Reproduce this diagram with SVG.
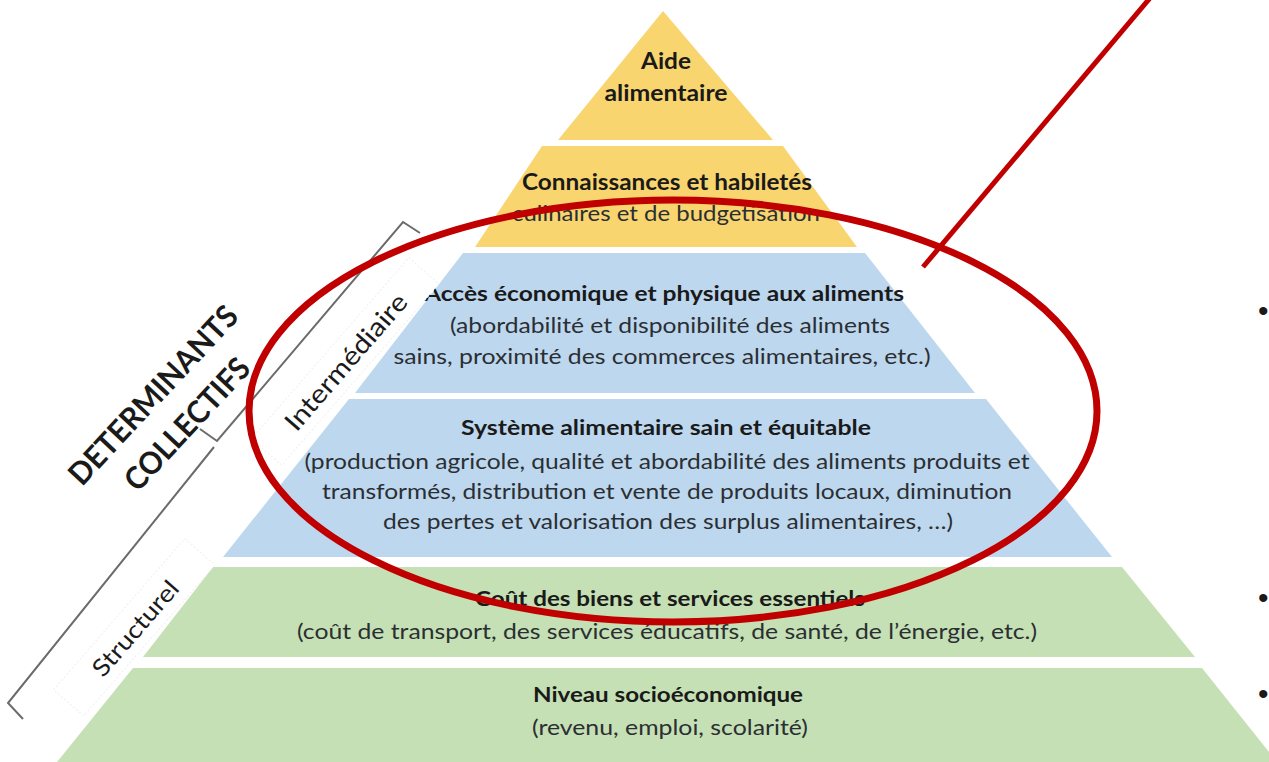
<svg xmlns="http://www.w3.org/2000/svg" width="1269" height="762" viewBox="0 0 1269 762">
<style>
  .yel { fill: #F9D56F; }
  .blu { fill: #BDD7EE; }
  .grn { fill: #C5E0B4; }
  .h { font-family: Lato, "Liberation Sans", sans-serif; font-weight: bold; fill: #1a1a1a; text-anchor: middle; }
  .b { font-family: Lato, "Liberation Sans", sans-serif; fill: #2b2f33; text-anchor: middle; }
  .lbl { font-family: Lato, "Liberation Sans", sans-serif; fill: #1a1a1a; text-anchor: middle; }
  .brk { fill: none; stroke: #6b6b6b; stroke-width: 2; stroke-linejoin: miter; }
  .box { fill: #ffffff; stroke: #efefef; stroke-width: 1; stroke-dasharray: 2 2; }
  .red { fill: none; stroke: #C00000; }
  .bul { font-family: "Liberation Sans", sans-serif; font-size: 30px; fill: #1a1a1a; }
</style>
<rect width="1269" height="762" fill="#ffffff"/>

<g id="tier-aide">
  <polygon class="yel" points="663,11 773,140 558,140"/>
  <text class="h" x="666" y="69" font-size="23" textLength="50" lengthAdjust="spacingAndGlyphs">Aide</text>
  <text class="h" x="666" y="101" font-size="23" textLength="123" lengthAdjust="spacingAndGlyphs">alimentaire</text>
</g>

<g id="tier-connaissances">
  <polygon class="yel" points="542,146 783,146 857,247 475,247"/>
  <text class="h" x="667" y="190" font-size="22" textLength="290" lengthAdjust="spacingAndGlyphs">Connaissances et habiletés</text>
  <text class="b" x="666" y="221" font-size="22" textLength="308" lengthAdjust="spacingAndGlyphs">culinaires et de budgetisation</text>
</g>

<g id="tier-acces">
  <polygon class="blu" points="463,253 865,253 975,393 355,393"/>
  <text class="h" x="664" y="301" font-size="21" textLength="480" lengthAdjust="spacingAndGlyphs">Accès économique et physique aux aliments</text>
  <text class="b" x="670" y="333" font-size="21" textLength="440" lengthAdjust="spacingAndGlyphs">(abordabilité et disponibilité des aliments</text>
  <text class="b" x="662" y="364" font-size="21" textLength="537" lengthAdjust="spacingAndGlyphs">sains, proximité des commerces alimentaires, etc.)</text>
</g>

<g id="tier-systeme">
  <polygon class="blu" points="349,399 986,399 1112,557 223,557"/>
  <text class="h" x="666" y="435" font-size="21" textLength="410" lengthAdjust="spacingAndGlyphs">Système alimentaire sain et équitable</text>
  <text class="b" x="667" y="469" font-size="21" textLength="725" lengthAdjust="spacingAndGlyphs">(production agricole, qualité et abordabilité des aliments produits et</text>
  <text class="b" x="667" y="499" font-size="21" textLength="690" lengthAdjust="spacingAndGlyphs">transformés, distribution et vente de produits locaux, diminution</text>
  <text class="b" x="668" y="529" font-size="21" textLength="570" lengthAdjust="spacingAndGlyphs">des pertes et valorisation des surplus alimentaires, …)</text>
</g>

<g id="tier-cout">
  <polygon class="grn" points="213,567 1122,567 1195,657 143,657"/>
  <text class="h" x="670" y="606" font-size="21" textLength="390" lengthAdjust="spacingAndGlyphs">Coût des biens et services essentiels</text>
  <text class="b" x="667" y="639" font-size="21" textLength="740" lengthAdjust="spacingAndGlyphs">(coût de transport, des services éducatifs, de santé, de l’énergie, etc.)</text>
</g>

<g id="tier-niveau">
  <polygon class="grn" points="133,668 1202,668 1277,762 57,762"/>
  <text class="h" x="668" y="702" font-size="21" textLength="270" lengthAdjust="spacingAndGlyphs">Niveau socioéconomique</text>
  <text class="b" x="670" y="735" font-size="21" textLength="276" lengthAdjust="spacingAndGlyphs">(revenu, emploi, scolarité)</text>
</g>

<g id="label-intermediaire">
  <rect class="box" x="-120" y="-21" width="240" height="40" transform="translate(346,362) rotate(-49)"/>
  <text class="lbl" font-size="26" textLength="172" lengthAdjust="spacingAndGlyphs" transform="translate(346,362) rotate(-49)" y="9">Intermédiaire</text>
</g>

<g id="label-structurel">
  <rect class="box" x="-100" y="-21" width="200" height="40" transform="translate(135,628) rotate(-49)"/>
  <text class="lbl" font-size="24" textLength="118" lengthAdjust="spacingAndGlyphs" transform="translate(135,628) rotate(-49)" y="9">Structurel</text>
</g>

<g id="label-determinants">
  <text class="lbl" font-weight="bold" font-size="31" textLength="232" lengthAdjust="spacingAndGlyphs" transform="translate(153,395) rotate(-47)" y="11">DETERMINANTS</text>
  <text class="lbl" font-weight="bold" font-size="31" textLength="168" lengthAdjust="spacingAndGlyphs" transform="translate(187,424) rotate(-47)" y="11">COLLECTIFS</text>
</g>

<g id="connectors">
  <polyline class="brk" points="420,233 403,222 217,441 200,429"/>
  <polyline class="brk" points="214,447 8,703 23,719"/>
  <ellipse class="red" cx="673" cy="411" rx="424" ry="211" stroke-width="7"/>
  <line class="red" x1="923" y1="267" x2="1150" y2="-2" stroke-width="5"/>
</g>

<g id="bullets">
  <text class="bul" x="1258" y="321">•</text>
  <text class="bul" x="1258" y="608">•</text>
  <text class="bul" x="1258" y="704">•</text>
</g>
</svg>
